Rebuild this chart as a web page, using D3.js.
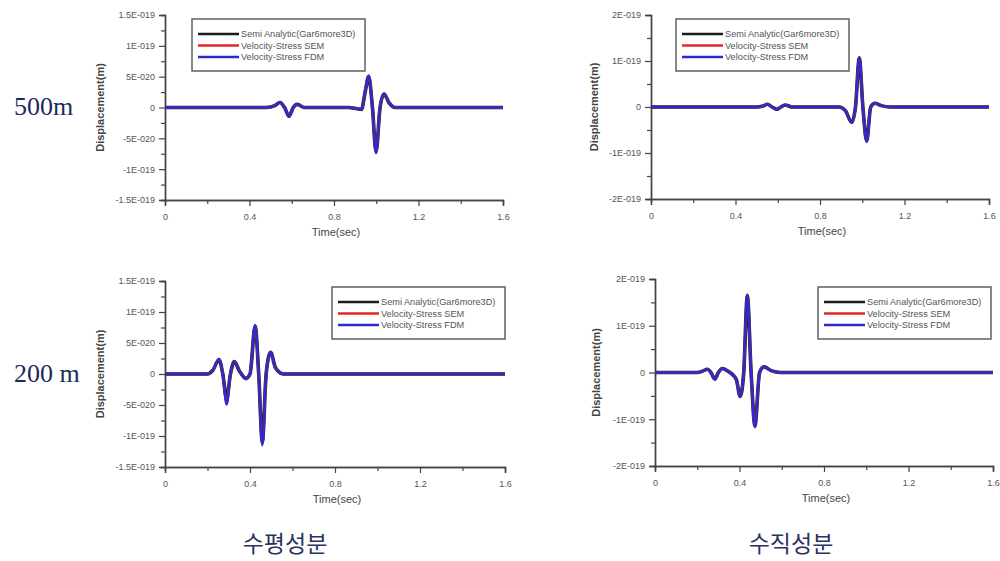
<!DOCTYPE html>
<html>
<head>
<meta charset="utf-8">
<script src="https://cdn.jsdelivr.net/npm/d3@7"></script>
<style>
  body { margin: 0; background: #fff; }
  svg { display: block; }
  .tick text { font-family: "Liberation Sans", Arial, sans-serif; fill: #555; }
</style>
</head>
<body>
<script>
// values are in units of 1e-20 m
var seriesNames = ["Semi Analytic(Gar6more3D)", "Velocity-Stress SEM", "Velocity-Stress FDM"];
var seriesColors = ["#1a1a1a", "#e52525", "#2b2bd0"];

var xTicks = [0, 0.4, 0.8, 1.2, 1.6];
var xTickLabels = ["0", "0.4", "0.8", "1.2", "1.6"];
var xMinor = [0.2, 0.6, 1.0, 1.4];

var yTicksH = [-15, -10, -5, 0, 5, 10, 15];
var yLabelsH = ["-1.5E-019", "-1E-019", "-5E-020", "0", "5E-020", "1E-019", "1.5E-019"];
var yMinorH = [-12.5, -7.5, -2.5, 2.5, 7.5, 12.5];
var yTicksV = [-20, -10, 0, 10, 20];
var yLabelsV = ["-2E-019", "-1E-019", "0", "1E-019", "2E-019"];
var yMinorV = [-15, -5, 5, 15];

var rowLabels = ["500m", "200 m"];
var colTitles = ["수평성분", "수직성분"];

// 500m horizontal
var h500Time     = [0, 0.48, 0.52, 0.544, 0.566, 0.587, 0.607, 0.626, 0.66, 0.87, 0.91, 0.93, 0.947, 0.964, 0.982, 0.999, 1.018, 1.037, 1.06, 1.09, 1.6];
var h500Analytic = [0, 0, 0.3, 0.8, 0, -1.4, 0, 0.5, 0, 0, -0.2, -0.3, 2.4, 5.0, 0, -7.2, 0, 2.2, 0.8, 0, 0];
var h500SEM      = [0, 0, 0.3, 0.8, 0, -1.5, 0, 0.5, 0, 0, -0.2, -0.3, 2.5, 5.1, 0, -7.3, 0, 2.2, 0.8, 0, 0];
var h500FDM      = [0, 0, 0.3, 0.8, 0, -1.5, 0, 0.5, 0, 0, -0.2, -0.3, 2.5, 5.2, 0, -7.4, 0, 2.2, 0.8, 0, 0];

// 500m vertical
var v500Time     = [0, 0.5, 0.53, 0.551, 0.573, 0.595, 0.615, 0.634, 0.67, 0.89, 0.92, 0.95, 0.968, 0.986, 1.003, 1.021, 1.04, 1.06, 1.09, 1.13, 1.6];
var v500Analytic = [0, 0, 0.2, 0.6, 0, -0.5, 0, 0.45, 0, 0, -0.8, -3.3, 0, 10.6, 0, -7.4, 0, 0.8, 0.3, 0, 0];
var v500SEM      = [0, 0, 0.2, 0.6, 0, -0.5, 0, 0.45, 0, 0, -0.8, -3.4, 0, 10.8, 0, -7.5, 0, 0.8, 0.3, 0, 0];
var v500FDM      = [0, 0, 0.2, 0.6, 0, -0.5, 0, 0.45, 0, 0, -0.8, -3.4, 0, 10.8, 0, -7.5, 0, 0.8, 0.3, 0, 0];

// 200m horizontal
var h200Time     = [0, 0.2, 0.225, 0.254, 0.272, 0.29, 0.308, 0.326, 0.35, 0.381, 0.4, 0.424, 0.441, 0.458, 0.476, 0.497, 0.52, 0.557, 1.6];
var h200Analytic = [0, 0, 0.6, 2.3, 0, -4.0, 0, 2.0, 0.5, -0.7, 0, 7.7, 0, -11.0, 0, 3.5, 1.0, 0, 0];
var h200SEM      = [0, 0, 0.6, 2.4, 0, -4.6, 0, 2.0, 0.5, -0.8, 0, 7.8, 0, -11.3, 0, 3.5, 1.0, 0, 0];
var h200FDM      = [0, 0, 0.6, 2.4, 0, -4.9, 0, 2.0, 0.5, -0.8, 0, 7.9, 0, -11.5, 0, 3.5, 1.0, 0, 0];

// 200m vertical
var v200Time     = [0, 0.2, 0.225, 0.248, 0.265, 0.283, 0.3, 0.319, 0.345, 0.366, 0.385, 0.403, 0.42, 0.437, 0.455, 0.473, 0.495, 0.516, 0.55, 0.594, 1.6];
var v200Analytic = [0, 0, 0.3, 0.7, 0, -1.4, 0, 0.86, 0.3, -0.4, -1.5, -5.1, 0, 16.4, 0, -11.4, 0, 1.2, 0.4, 0, 0];
var v200SEM      = [0, 0, 0.3, 0.7, 0, -1.4, 0, 0.86, 0.3, -0.4, -1.5, -5.2, 0, 16.6, 0, -11.6, 0, 1.2, 0.4, 0, 0];
var v200FDM      = [0, 0, 0.3, 0.7, 0, -1.4, 0, 0.86, 0.3, -0.4, -1.5, -5.2, 0, 16.7, 0, -11.7, 0, 1.2, 0.4, 0, 0];

var width = 1000, height = 561;
var svg = d3.select("body").append("svg")
    .attr("width", width)
    .attr("height", height);

var font = "'Liberation Sans', Arial, sans-serif";

var panels = [
  { left: 165, top: 15, w: 338, h: 185, time: h500Time, series: [h500Analytic, h500SEM, h500FDM],
    yTicks: yTicksH, yLabels: yLabelsH, yMinor: yMinorH, ymax: 15, legend: [192, 19], ylab: 104 },
  { left: 651, top: 15, w: 338, h: 184, time: v500Time, series: [v500Analytic, v500SEM, v500FDM],
    yTicks: yTicksV, yLabels: yLabelsV, yMinor: yMinorV, ymax: 20, legend: [676, 19], ylab: 598 },
  { left: 165, top: 281, w: 340, h: 186, time: h200Time, series: [h200Analytic, h200SEM, h200FDM],
    yTicks: yTicksH, yLabels: yLabelsH, yMinor: yMinorH, ymax: 15, legend: [332, 287], ylab: 104 },
  { left: 655, top: 279, w: 338, h: 187, time: v200Time, series: [v200Analytic, v200SEM, v200FDM],
    yTicks: yTicksV, yLabels: yLabelsV, yMinor: yMinorV, ymax: 20, legend: [818, 287], ylab: 600 }
];

panels.forEach(function(p) {
  var g = svg.append("g").attr("transform", "translate(" + p.left + "," + p.top + ")");

  var x = d3.scaleLinear().domain([0, 1.6]).range([0, p.w]);
  var y = d3.scaleLinear().domain([-p.ymax, p.ymax]).range([p.h, 0]);

  // minor ticks
  g.append("g")
      .attr("transform", "translate(0," + p.h + ")")
      .call(d3.axisBottom(x).tickValues(xMinor).tickSize(4).tickFormat(""))
      .call(styleAxis);
  g.append("g")
      .call(d3.axisLeft(y).tickValues(p.yMinor).tickSize(4).tickFormat(""))
      .call(styleAxis);

  // major ticks
  g.append("g")
      .attr("transform", "translate(0," + p.h + ")")
      .call(d3.axisBottom(x).tickValues(xTicks).tickSize(6).tickPadding(8)
        .tickFormat(function(d, i) { return xTickLabels[i]; }))
      .call(styleAxis)
      .selectAll("text").style("font-size", "9px");
  g.append("g")
      .call(d3.axisLeft(y).tickValues(p.yTicks).tickSize(6).tickPadding(4)
        .tickFormat(function(d, i) { return p.yLabels[i]; }))
      .call(styleAxis)
      .selectAll("text").style("font-size", "9px");

  // axis titles
  g.append("text")
      .attr("x", p.w / 2 + 2)
      .attr("y", p.h + 36)
      .attr("text-anchor", "middle")
      .style("font-family", font)
      .style("font-size", "11px")
      .style("fill", "#444")
      .text("Time(sec)");
  svg.append("text")
      .attr("transform", "translate(" + p.ylab + "," + (p.top + p.h / 2) + ") rotate(-90)")
      .attr("text-anchor", "middle")
      .style("font-family", font)
      .style("font-size", "11px")
      .style("font-weight", "bold")
      .style("fill", "#444")
      .text("Displacement(m)");

  // waveforms
  p.series.forEach(function(vals, si) {
    var line = d3.line()
        .x(function(d, i) { return x(p.time[i]); })
        .y(function(d) { return y(d); })
        .curve(d3.curveMonotoneX);
    g.append("path")
        .datum(vals)
        .attr("fill", "none")
        .attr("stroke", seriesColors[si])
        .attr("stroke-width", [3.6, 2.5, 2.5][si])
        .attr("stroke-linejoin", "round")
        .attr("d", line);
  });

  // legend
  var lg = svg.append("g").attr("transform", "translate(" + p.legend[0] + "," + p.legend[1] + ")");
  lg.append("rect")
      .attr("width", 173).attr("height", 52)
      .attr("fill", "#fff")
      .attr("stroke", "#555")
      .attr("stroke-width", 1.4);
  seriesNames.forEach(function(name, si) {
    var yy = 15 + si * 11.5;
    lg.append("line")
        .attr("x1", 6).attr("x2", 47)
        .attr("y1", yy).attr("y2", yy)
        .attr("stroke", seriesColors[si])
        .attr("stroke-width", 2.4);
    lg.append("text")
        .attr("x", 49).attr("y", yy + 3.3)
        .style("font-family", font)
        .style("font-size", "9.2px")
        .style("fill", "#555")
        .text(name);
  });
});

function styleAxis(sel) {
  sel.select(".domain").attr("stroke", "#444").attr("stroke-width", 1.4);
  sel.selectAll(".tick line").attr("stroke", "#444").attr("stroke-width", 1.2);
}

// row labels
var rowY = [115, 382];
rowLabels.forEach(function(t, i) {
  svg.append("text")
      .attr("x", 14).attr("y", rowY[i])
      .style("font-family", "'Liberation Serif', 'Times New Roman', serif")
      .style("font-size", "26px")
      .style("fill", "#1d2a5c")
      .text(t);
});

// column titles
var colX = [285, 791];
colTitles.forEach(function(t, i) {
  svg.append("text")
      .attr("x", colX[i]).attr("y", 552)
      .attr("text-anchor", "middle")
      .style("font-family", "'Noto Sans CJK KR', sans-serif")
      .style("font-size", "23px")
      .style("fill", "#2a3360")
      .text(t);
});
</script>
</body>
</html>
